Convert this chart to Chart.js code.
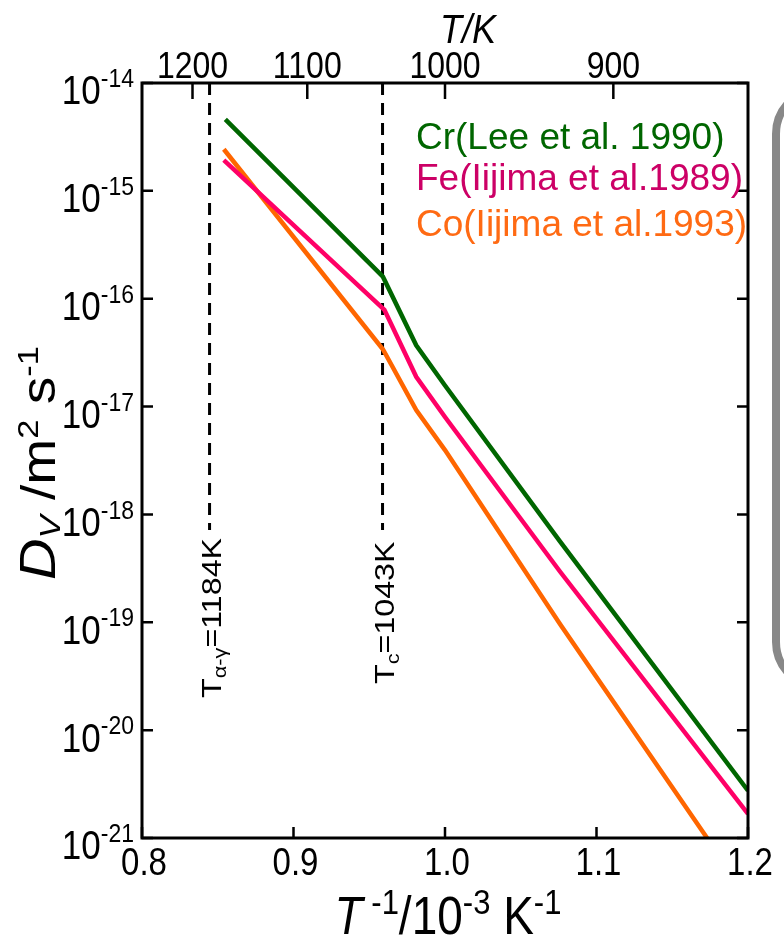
<!DOCTYPE html>
<html>
<head>
<meta charset="utf-8">
<script src="https://cdn.jsdelivr.net/npm/chart.js@4"></script>
<style>
  html, body { margin: 0; padding: 0; background: #fff; }
  #wrap { width: 784px; height: 942px; }
</style>
</head>
<body>
<div id="wrap"><canvas id="grafico"></canvas></div>
<script>
// T^-1 / 10^-3 K^-1  e  D_V / m^2 s^-1
const invTCr = [0.855, 0.959, 0.981, 1.000, 1.076, 1.200]
const dCr = [4.6e-15, 1.6e-16, 3.7e-17, 1.57e-17, 5.6e-19, 2.75e-21]

const invTFe = [0.854, 0.960, 0.981, 1.000, 1.076, 1.200]
const dFe = [1.93e-15, 7.9e-17, 1.89e-17, 8.0e-18, 2.94e-19, 1.67e-21]

const invTCo = [0.854, 0.959, 0.981, 1.000, 1.076, 1.173]
const dCo = [2.43e-15, 3.4e-17, 9.3e-18, 3.95e-18, 9.6e-20, 1.0e-21]

// eixo superior (T/K), eixo inferior e expoentes do eixo y
const topTemps = [1200, 1100, 1000, 900]
const xTicks = [0.8, 0.9, 1.0, 1.1, 1.2]
const yExps = [-14, -15, -16, -17, -18, -19, -20, -21]

// temperaturas de transição
const tAlphaGamma = 1184
const tCurie = 1043

const seriesNames = ['Cr(Lee et al. 1990)', 'Fe(Iijima et al.1989)', 'Co(Iijima et al.1993)']
const lineColors = ['#006600', '#FF0066', '#FF6600']
const textColors = ['#006600', '#CC0066', '#FF6A13']

const FONT = 'Liberation Sans, Arial, sans-serif'
const SY = 1.15   // o texto da figura original é um pouco esticado na vertical

function pts(xs, ys) {
    return xs.map((x, i) => ({ x: x, y: ys[i] }))
}

// escreve texto com partes (sobrescrito, subscrito, itálico)
function rich(ctx, parts, x, y, align, rot) {
    ctx.save()
    ctx.translate(x, y)
    ctx.scale(1, SY)
    if (rot) ctx.rotate(rot)
    let w = 0
    parts.forEach(p => { ctx.font = p.f; w += ctx.measureText(p.t).width })
    let cx = align === 'center' ? -w / 2 : (align === 'right' ? -w : 0)
    ctx.textAlign = 'left'
    ctx.textBaseline = 'alphabetic'
    parts.forEach(p => {
        ctx.font = p.f
        ctx.fillText(p.t, cx, p.dy || 0)
        cx += ctx.measureText(p.t).width
    })
    ctx.restore()
}

const decor = {
    id: 'decor',
    beforeDatasetsDraw(chart) {
        const ctx = chart.ctx
        const x = chart.scales.x
        const top = chart.chartArea.top
        ctx.save()
        ctx.strokeStyle = '#000'
        ctx.lineWidth = 3
        ctx.setLineDash([12, 8])
        ;[tAlphaGamma, tCurie].forEach(t => {
            const px = x.getPixelForValue(1000 / t)
            ctx.beginPath()
            ctx.moveTo(px, top)
            ctx.lineTo(px, 530)
            ctx.stroke()
        })
        ctx.restore()
    },
    afterDraw(chart) {
        const ctx = chart.ctx
        const a = chart.chartArea
        const x = chart.scales.x
        const y = chart.scales.y
        ctx.save()
        ctx.fillStyle = '#000'
        ctx.strokeStyle = '#000'

        // moldura
        ctx.lineWidth = 3
        ctx.strokeRect(a.left, a.top, a.right - a.left, a.bottom - a.top)

        // marcas para dentro
        ctx.lineWidth = 2.5
        ctx.beginPath()
        xTicks.forEach(v => {
            const px = x.getPixelForValue(v)
            ctx.moveTo(px, a.bottom); ctx.lineTo(px, a.bottom - 11)
        })
        topTemps.forEach(t => {
            const px = x.getPixelForValue(1000 / t)
            ctx.moveTo(px, a.top); ctx.lineTo(px, a.top + 16)
        })
        yExps.forEach(e => {
            const py = y.getPixelForValue(Math.pow(10, e))
            ctx.moveTo(a.left, py); ctx.lineTo(a.left + 11, py)
            ctx.moveTo(a.right, py); ctx.lineTo(a.right - 11, py)
        })
        ctx.stroke()

        // rótulos do eixo inferior e superior
        xTicks.forEach(v => {
            rich(ctx, [{ t: v.toFixed(1), f: '33px ' + FONT }], x.getPixelForValue(v) + 2, 875, 'center')
        })
        topTemps.forEach(t => {
            rich(ctx, [{ t: String(t), f: '32px ' + FONT }], x.getPixelForValue(1000 / t), 78, 'center')
        })

        // rótulos do eixo y: 10^n
        yExps.forEach(e => {
            const py = y.getPixelForValue(Math.pow(10, e))
            rich(ctx, [
                { t: '10', f: '35px ' + FONT, dy: 16 },
                { t: '-' + (-e), f: '23px ' + FONT, dy: 1 }
            ], 134, py + 3, 'right')
        })

        // título do eixo y
        rich(ctx, [
            { t: 'D', f: 'italic 50px ' + FONT },
            { t: 'V', f: 'italic 30px ' + FONT, dy: 5 },
            { t: ' /m', f: '48px ' + FONT },
            { t: '2', f: '30px ' + FONT, dy: -17 },
            { t: ' s', f: '48px ' + FONT },
            { t: '-1', f: '30px ' + FONT, dy: -17 }
        ], 55, 463, 'center', -Math.PI / 2)

        // título do eixo x
        rich(ctx, [
            { t: 'T', f: 'italic 46px ' + FONT },
            { t: ' -1', f: '31px ' + FONT, dy: -17 },
            { t: '/10', f: '46px ' + FONT },
            { t: '-3', f: '31px ' + FONT, dy: -17 },
            { t: ' K', f: '46px ' + FONT },
            { t: '-1', f: '31px ' + FONT, dy: -17 }
        ], 448, 934, 'center')

        // título do eixo superior
        rich(ctx, [{ t: 'T/K', f: 'italic 36px ' + FONT }], 468, 43, 'center')

        // textos das transições
        const notes = [
            { t: tAlphaGamma, sub: 'α-γ', y0: 698 },
            { t: tCurie, sub: 'c', y0: 684 }
        ]
        notes.forEach(n => {
            const px = x.getPixelForValue(1000 / n.t)
            rich(ctx, [
                { t: 'T', f: '28px ' + FONT },
                { t: n.sub, f: '19px ' + FONT, dy: 5 },
                { t: '=' + n.t + 'K', f: '28px ' + FONT }
            ], px + 11, n.y0, 'left', -Math.PI / 2)
        })

        // legenda
        ;[149, 190, 236].forEach((py, i) => {
            ctx.fillStyle = textColors[i]
            ctx.font = '37px ' + FONT
            ctx.textAlign = 'left'
            ctx.textBaseline = 'alphabetic'
            ctx.fillText(seriesNames[i], 416, py)
        })

        // caixa cinza cortada à direita
        ctx.strokeStyle = '#888'
        ctx.lineWidth = 8
        ctx.beginPath()
        ctx.roundRect(776, 89, 120, 598, 45)
        ctx.stroke()
        ctx.restore()
    }
}

const data = {
    datasets: [
        { label: seriesNames[0], data: pts(invTCr, dCr), borderColor: lineColors[0], order: 0 },
        { label: seriesNames[1], data: pts(invTFe, dFe), borderColor: lineColors[1], order: 1 },
        { label: seriesNames[2], data: pts(invTCo, dCo), borderColor: lineColors[2], order: 2 }
    ].map(d => Object.assign(d, { borderWidth: 4.5, pointRadius: 0, tension: 0, fill: false, showLine: true }))
}

const options = {
    responsive: true,
    maintainAspectRatio: false,
    animation: false,
    layout: { padding: { left: 0, right: 36, top: 0, bottom: 0 } },
    plugins: { legend: { display: false }, tooltip: { enabled: false } },
    scales: {
        x: {
            type: 'linear', position: 'bottom', min: 0.8, max: 1.2,
            afterBuildTicks: s => { s.ticks = xTicks.map(v => ({ value: v })) },
            ticks: { display: false },
            grid: { display: false, drawTicks: false },
            border: { display: false },
            afterFit: s => { s.height = 104 }
        },
        xTop: {
            type: 'linear', position: 'top', min: 0.8, max: 1.2,
            afterBuildTicks: s => { s.ticks = topTemps.map(t => ({ value: 1000 / t })) },
            ticks: { display: false },
            grid: { display: false, drawTicks: false },
            border: { display: false },
            afterFit: s => { s.height = 83 }
        },
        y: {
            type: 'logarithmic', min: 1e-21, max: 1e-14,
            ticks: { display: false },
            grid: { display: false, drawTicks: false },
            border: { display: false },
            afterFit: s => { s.width = 142 }
        }
    }
}

let ctx = document.querySelector('#grafico').getContext('2d')
let lineChart = new Chart(ctx, {
    type: 'scatter',
    data: data,
    options: options,
    plugins: [decor]
})
</script>
</body>
</html>
